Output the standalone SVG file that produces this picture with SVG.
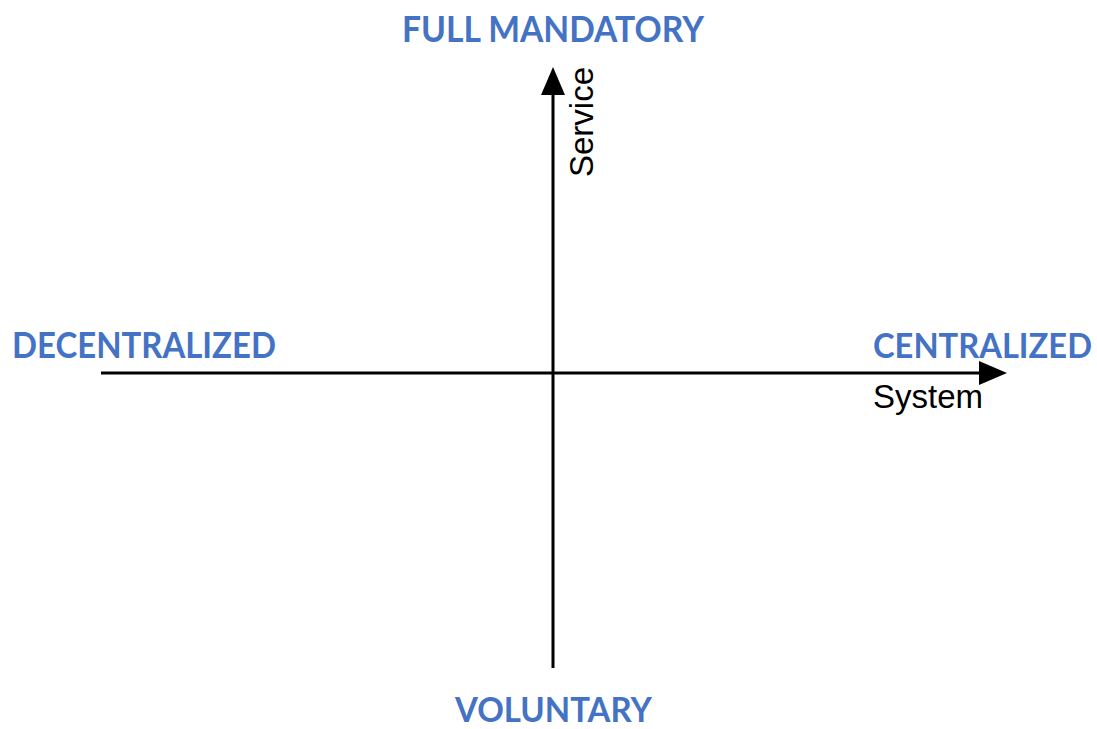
<svg xmlns="http://www.w3.org/2000/svg" width="1097" height="729" viewBox="0 0 1097 729">
<style>
.cat{font-family:Lato,"Open Sans","Liberation Sans",sans-serif;font-weight:bold;font-size:36px;fill:#4472C4}
.ax{font-family:"Liberation Sans",Arial,sans-serif;font-size:33px;fill:#000}
.axis{stroke:#000;stroke-width:3;fill:none}
.head{fill:#000}
</style>
<rect width="1097" height="729" fill="#fff"/>
<g id="connectors">
<line class="axis" x1="553" y1="668" x2="553" y2="90"/>
<polygon class="head" points="553,67 541,95 565,95"/>
<line class="axis" x1="101" y1="373" x2="985" y2="373"/>
<polygon class="head" points="1007,373 979,361 979,385"/>
</g>
<g id="label-full-mandatory"><text class="cat" x="402" y="42" textLength="302" lengthAdjust="spacingAndGlyphs">FULL MANDATORY</text></g>
<g id="label-decentralized"><text class="cat" x="12" y="358" textLength="264" lengthAdjust="spacingAndGlyphs">DECENTRALIZED</text></g>
<g id="label-centralized"><text class="cat" x="1092" y="358" text-anchor="end" textLength="219" lengthAdjust="spacingAndGlyphs" style="font-size:34px">CENTRALIZED</text></g>
<g id="label-voluntary"><text class="cat" x="455" y="722" textLength="197" lengthAdjust="spacingAndGlyphs" style="font-size:34px">VOLUNTARY</text></g>
<g id="label-service"><text class="ax" transform="translate(593,122) rotate(-90)" text-anchor="middle">Service</text></g>
<g id="label-system"><text class="ax" x="873" y="408">System</text></g>
</svg>
